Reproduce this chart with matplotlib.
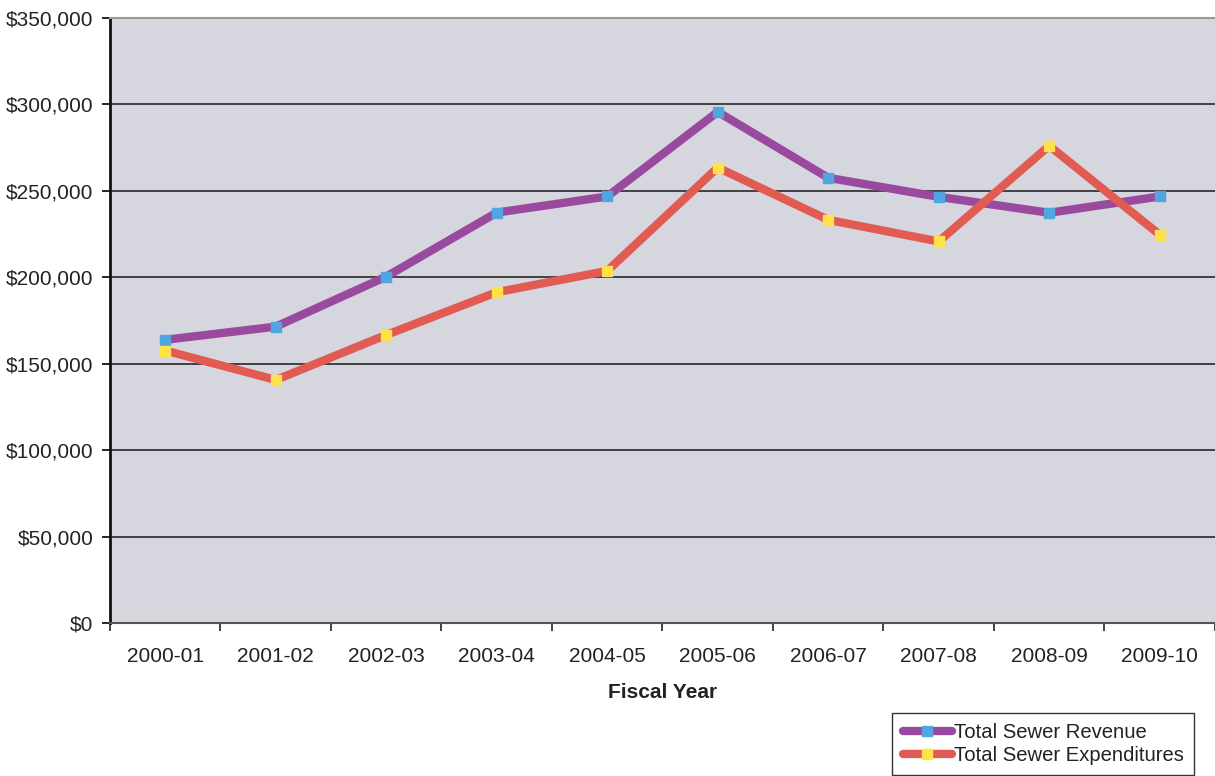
import matplotlib
matplotlib.use("Agg")
import matplotlib.pyplot as plt
from matplotlib.ticker import FuncFormatter, MultipleLocator

plt.rcParams['font.family'] = ['Liberation Sans', 'DejaVu Sans']

fiscal_years = ['2000-01', '2001-02', '2002-03', '2003-04', '2004-05',
                '2005-06', '2006-07', '2007-08', '2008-09', '2009-10']
revenue = [163800, 171400, 200300, 237300, 246600,
           295500, 257400, 246400, 237200, 246600]
expenditures = [157600, 140600, 166600, 191300, 203600,
                263300, 233100, 220600, 275900, 224500]

fig = plt.figure(figsize=(12.15, 7.76), dpi=100)
ax = fig.add_axes([0.0905, 0.1968, 0.9095, 0.7806])
ax.set_facecolor('#D6D6DE')

x = range(len(fiscal_years))
ax.plot(x, revenue, color='#9A4A9E', lw=6, marker='s', ms=7,
        mfc='#4FA6E0', mec='#4FA6E0', solid_capstyle='round',
        label='Total Sewer Revenue', zorder=3)
ax.plot(x, expenditures, color='#E25B52', lw=6, marker='s', ms=7,
        mfc='#FFE24A', mec='#FFE24A', solid_capstyle='round',
        label='Total Sewer Expenditures', zorder=3)

ax.set_xlim(-0.5, len(fiscal_years) - 0.5)
ax.set_ylim(0, 350000)
ax.yaxis.set_major_locator(MultipleLocator(50000))
ax.yaxis.set_major_formatter(FuncFormatter(lambda v, p: f'${v:,.0f}'))
ax.set_xticks(list(x))
ax.set_xticklabels(fiscal_years)
ax.set_xticks([i + 0.5 for i in range(-1, len(fiscal_years))], minor=True)
ax.tick_params(axis='x', which='major', length=0, pad=17, labelsize=15,
               labelcolor='#222222')
ax.tick_params(axis='x', which='minor', length=6, width=1.2, color='#222222')
ax.tick_params(axis='y', length=6, width=1.2, pad=6, labelsize=15,
               labelcolor='#222222')

for v in range(50000, 350000, 50000):
    ax.axhline(v, color='#1a1a1a', lw=1.1, zorder=1)

ax.spines['left'].set_linewidth(2)
ax.spines['left'].set_color('#111111')
ax.spines['bottom'].set_linewidth(1.5)
ax.spines['bottom'].set_color('#555555')
ax.spines['top'].set_color('#999999')
ax.spines['top'].set_linewidth(1.5)
ax.spines['right'].set_visible(False)

ax.set_xlabel('Fiscal Year', fontsize=15, fontweight='bold', labelpad=12,
              color='#222222')

leg = fig.legend(loc='upper left', bbox_to_anchor=(0.7345, 0.0815),
                 fontsize=14.6, frameon=True, fancybox=False,
                 edgecolor='black', handlelength=2.45, handletextpad=0.08,
                 labelspacing=0.22, borderpad=0.5, borderaxespad=0)
leg.get_frame().set_linewidth(1.0)
for t in leg.get_texts():
    t.set_color('#222222')

fig.savefig('out.png', dpi=100)
